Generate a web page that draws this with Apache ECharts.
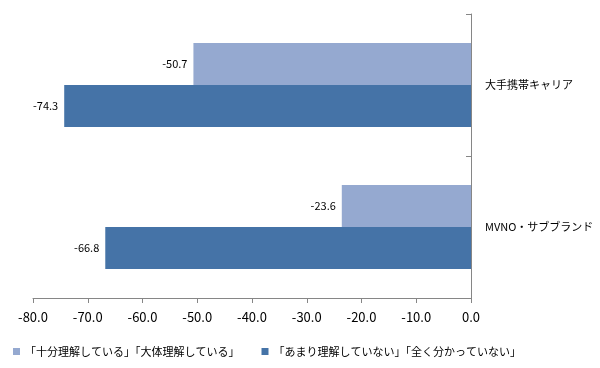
<!DOCTYPE html>
<html><head><meta charset="utf-8">
<script src="https://cdn.jsdelivr.net/npm/echarts@6/dist/echarts.min.js"></script>
<style>html,body{margin:0;padding:0;background:#fff}#c{width:600px;height:368px}</style>
</head><body><div id="c"></div>
<script>
const categories = ["大手携帯キャリア", "MVNO・サブブランド"];
const seriesNames = ["「十分理解している」「大体理解している」", "「あまり理解していない」「全く分かっていない」"];
const understand = [-50.7, -23.6];
const notUnderstand = [-74.3, -66.8];
const xTicks = { min: -80, max: 0, interval: 10 };

const font = '"Noto Sans CJK JP", "Noto Sans", sans-serif';
const chart = echarts.init(document.getElementById('c'), null, { renderer: 'canvas' });
const lbl = { show: true, position: 'left', distance: 6, color: '#000', fontSize: 11, fontFamily: font, formatter: p => p.value.toFixed(1) };
chart.setOption({
  animation: false,
  textStyle: { fontFamily: font },
  grid: { left: 33, right: 129, top: 14, bottom: 70, containLabel: false, outerBoundsMode: 'none' },
  legend: {
    data: seriesNames, top: 341, left: 8, itemWidth: 7, itemHeight: 7, itemGap: 22, icon: 'rect',
    textStyle: { fontSize: 11, color: '#000', fontFamily: font }
  },
  xAxis: {
    type: 'value', min: xTicks.min, max: xTicks.max, interval: xTicks.interval,
    axisLine: { show: true, lineStyle: { color: '#868686' } },
    axisTick: { show: true, length: 5, lineStyle: { color: '#868686' } },
    splitLine: { show: false },
    axisLabel: { color: '#000', fontSize: 13, margin: 13, fontFamily: font, formatter: v => v.toFixed(1) }
  },
  yAxis: {
    type: 'category', data: categories, position: 'right', inverse: true,
    axisLine: { show: true, onZero: false, lineStyle: { color: '#868686' } },
    axisTick: { show: true, inside: true, length: 5, lineStyle: { color: '#868686' } },
    axisLabel: { color: '#000', fontSize: 11, margin: 14, fontFamily: font }
  },
  series: [
    { name: seriesNames[0], type: 'bar', data: understand, barGap: '0%', barCategoryGap: '41%', itemStyle: { color: '#95A9D0' }, label: lbl },
    { name: seriesNames[1], type: 'bar', data: notUnderstand, barGap: '0%', barCategoryGap: '41%', itemStyle: { color: '#4573A7' }, label: lbl }
  ]
});
</script></body></html>
